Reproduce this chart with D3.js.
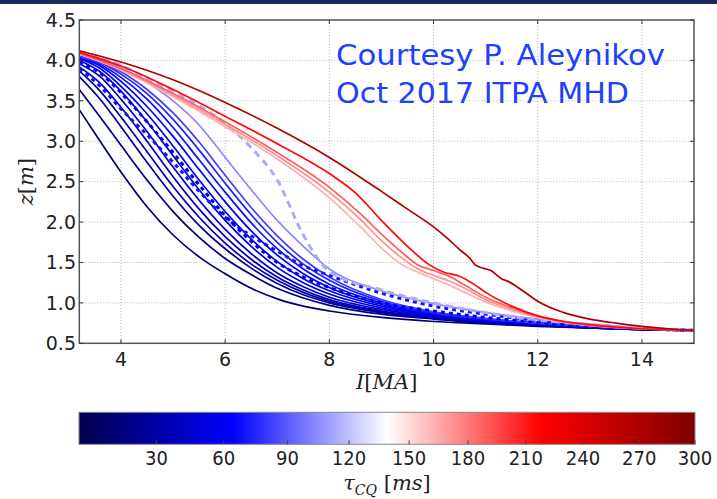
<!DOCTYPE html>
<html><head><meta charset="utf-8">
<script src="https://cdn.jsdelivr.net/npm/d3@7"></script>
<style>body{margin:0;background:#fff;} svg{display:block;}</style>
</head><body>
<svg id="c" width="717" height="499"></svg>
<script>
// ---------- data ----------
const xTicks = [4, 6, 8, 10, 12, 14];
const yTicks = [0.5, 1.0, 1.5, 2.0, 2.5, 3.0, 3.5, 4.0, 4.5];
const cbTicks = [30, 60, 90, 120, 150, 180, 210, 240, 270, 300];

// shared current grid [MA] for the blue family
const iGrid = [3.2, 3.6, 4, 4.5, 5, 5.5, 6, 6.5, 7, 7.5, 8, 9, 10, 11, 12, 13, 14, 15];

// z [m] for each blue-family curve on iGrid
const zN1  = [3.39, 3.00, 2.62, 2.19, 1.84, 1.57, 1.36, 1.18, 1.05, 0.96, 0.90, 0.82, 0.77, 0.74, 0.71, 0.69, 0.67, 0.66];
const zN2  = [3.64, 3.30, 2.95, 2.52, 2.13, 1.81, 1.55, 1.35, 1.18, 1.06, 0.97, 0.86, 0.80, 0.75, 0.72, 0.69, 0.67, 0.66];
const zN3  = [3.80, 3.52, 3.18, 2.74, 2.32, 1.96, 1.67, 1.43, 1.24, 1.10, 1.00, 0.88, 0.81, 0.76, 0.72, 0.69, 0.67, 0.66];
const zN4  = [3.87, 3.62, 3.30, 2.87, 2.44, 2.06, 1.74, 1.48, 1.28, 1.13, 1.02, 0.89, 0.82, 0.76, 0.72, 0.69, 0.67, 0.66];
const zN5  = [3.92, 3.72, 3.42, 3.00, 2.56, 2.16, 1.82, 1.54, 1.32, 1.16, 1.04, 0.90, 0.82, 0.77, 0.73, 0.70, 0.67, 0.66];
const zN6  = [3.96, 3.80, 3.52, 3.12, 2.68, 2.27, 1.91, 1.61, 1.37, 1.20, 1.07, 0.92, 0.83, 0.77, 0.73, 0.70, 0.68, 0.66];
const zB7  = [4.00, 3.86, 3.62, 3.24, 2.82, 2.40, 2.02, 1.70, 1.44, 1.25, 1.11, 0.94, 0.84, 0.78, 0.74, 0.70, 0.68, 0.66];
const zB8  = [4.02, 3.90, 3.68, 3.34, 2.94, 2.52, 2.13, 1.79, 1.51, 1.30, 1.15, 0.96, 0.85, 0.78, 0.74, 0.70, 0.68, 0.66];
const zB9  = [4.03, 3.93, 3.74, 3.43, 3.06, 2.65, 2.25, 1.89, 1.59, 1.36, 1.19, 0.98, 0.86, 0.79, 0.74, 0.71, 0.68, 0.66];
const zB10 = [4.04, 3.95, 3.79, 3.52, 3.17, 2.77, 2.37, 1.99, 1.67, 1.42, 1.23, 1.00, 0.87, 0.80, 0.75, 0.71, 0.68, 0.66];
const zB11 = [4.05, 3.97, 3.83, 3.59, 3.27, 2.89, 2.48, 2.09, 1.75, 1.48, 1.28, 1.02, 0.88, 0.80, 0.75, 0.71, 0.68, 0.66];
const zB12 = [4.05, 3.98, 3.86, 3.64, 3.35, 2.99, 2.58, 2.18, 1.83, 1.54, 1.32, 1.04, 0.89, 0.81, 0.75, 0.71, 0.68, 0.66];
const zD1  = [3.90, 3.68, 3.40, 3.08, 2.74, 2.38, 2.06, 1.83, 1.64, 1.46, 1.34, 1.12, 0.96, 0.86, 0.78, 0.72, 0.68, 0.66];
const zD2  = [3.98, 3.84, 3.60, 3.24, 2.86, 2.46, 2.08, 1.76, 1.50, 1.32, 1.19, 1.00, 0.90, 0.82, 0.76, 0.71, 0.68, 0.66];
const zLB  = [4.08, 4.02, 3.91, 3.73, 3.50, 3.20, 2.80, 2.40, 2.02, 1.70, 1.42, 1.15, 0.99, 0.88, 0.80, 0.74, 0.69, 0.66];
const zLBd = [4.10, 4.04, 3.94, 3.78, 3.62, 3.44, 3.22, 2.92, 2.52, 1.84, 1.39, 1.16, 1.00, 0.88, 0.79, 0.73, 0.69, 0.66];

// red curves have their own current samples
const iDarkRed = [3.2, 4, 5, 6, 7, 8, 9, 9.5, 10, 10.3, 10.5, 10.7, 10.8, 10.95, 11.1, 11.3, 11.45, 11.6, 11.8, 12, 12.5, 13, 13.5, 14, 14.5, 15];
const zDarkRed = [4.12, 3.98, 3.76, 3.48, 3.16, 2.80, 2.38, 2.16, 1.94, 1.78, 1.66, 1.55, 1.47, 1.43, 1.40, 1.30, 1.26, 1.20, 1.11, 1.02, 0.88, 0.80, 0.75, 0.71, 0.68, 0.66];
const iRed = [3.2, 4, 5, 6, 7, 8, 8.5, 9, 9.5, 9.9, 10.2, 10.5, 10.8, 11, 11.5, 12, 12.5, 13, 14, 15];
const zRed = [4.10, 3.93, 3.64, 3.31, 2.97, 2.60, 2.36, 2.02, 1.70, 1.48, 1.38, 1.33, 1.22, 1.13, 0.96, 0.84, 0.77, 0.73, 0.68, 0.66];
const iPink = [3.2, 4, 5, 6, 7, 8, 8.6, 9, 9.4, 9.7, 10, 10.3, 10.6, 11, 11.5, 12, 12.5, 13, 14, 15];
const zPink1 = [4.09, 3.90, 3.59, 3.24, 2.86, 2.43, 2.10, 1.85, 1.62, 1.47, 1.40, 1.33, 1.22, 1.07, 0.94, 0.84, 0.77, 0.72, 0.68, 0.66];
const zPink2 = [4.08, 3.89, 3.57, 3.21, 2.82, 2.37, 2.03, 1.77, 1.55, 1.42, 1.34, 1.27, 1.18, 1.04, 0.92, 0.83, 0.76, 0.72, 0.68, 0.66];
const zPink3 = [4.08, 3.88, 3.55, 3.18, 2.78, 2.30, 1.94, 1.68, 1.47, 1.38, 1.30, 1.22, 1.13, 1.01, 0.90, 0.82, 0.76, 0.72, 0.68, 0.66];

// quench times [ms] per curve
const tauList = [10, 18, 25, 32, 38, 44, 50, 56, 62, 68, 74, 82, 70, 62, 104, 114, 163, 173, 188, 215, 268];

const series = [
  {i: iGrid, z: zN1}, {i: iGrid, z: zN2}, {i: iGrid, z: zN3}, {i: iGrid, z: zN4},
  {i: iGrid, z: zN5}, {i: iGrid, z: zN6}, {i: iGrid, z: zB7}, {i: iGrid, z: zB8},
  {i: iGrid, z: zB9}, {i: iGrid, z: zB10}, {i: iGrid, z: zB11}, {i: iGrid, z: zB12},
  {i: iGrid, z: zD1, dash: "4,4"}, {i: iGrid, z: zD2, dash: "4,4"},
  {i: iGrid, z: zLB}, {i: iGrid, z: zLBd, dash: "7,5"},
  {i: iPink, z: zPink3}, {i: iPink, z: zPink2}, {i: iPink, z: zPink1},
  {i: iRed, z: zRed}, {i: iDarkRed, z: zDarkRed}
].map((s, k) => Object.assign(s, {tau: tauList[k]}));

// ---------- drawing ----------
const svg = d3.select("#c");
const W = 717, H = 499;
svg.append("rect").attr("width", W).attr("height", H).attr("fill", "#fff");
svg.append("rect").attr("x", 0).attr("y", 0).attr("width", W).attr("height", 4).attr("fill", "#1c2a5c");

const L = 79.3, R = 694, T = 20, B = 343.3;
const x = d3.scaleLinear().domain([3.2, 15]).range([L, R]);
const y = d3.scaleLinear().domain([0.5, 4.5]).range([B, T]);

// seismic colormap
const seismic = d3.scaleLinear()
  .domain([0, 0.25, 0.5, 0.75, 1])
  .range(["#00004c", "#0000ff", "#ffffff", "#ff0000", "#800000"])
  .interpolate(d3.interpolateRgb);
const cbPos = d3.scalePow().exponent(0.9).domain([0, 300]).range([79, 695]);
const norm = v => (cbPos(v) - 79) / (695 - 79);
const colorOf = v => seismic(norm(v));

// grid
const grid = svg.append("g").attr("stroke", "#b5b5b5").attr("stroke-width", 1).attr("stroke-dasharray", "1,2");
grid.selectAll("line.v").data(xTicks).join("line")
  .attr("x1", d => x(d)).attr("x2", d => x(d)).attr("y1", T).attr("y2", B);
grid.selectAll("line.h").data(yTicks.slice(1, -1)).join("line")
  .attr("y1", d => y(d)).attr("y2", d => y(d)).attr("x1", L).attr("x2", R);

// curves
svg.append("clipPath").attr("id", "pc").append("rect")
  .attr("x", L).attr("y", T).attr("width", R - L).attr("height", B - T);
const line = d3.line().curve(d3.curveMonotoneX).x(d => x(d[0])).y(d => y(d[1]));
svg.append("g").attr("clip-path", "url(#pc)")
  .selectAll("path").data(series).join("path")
  .attr("d", s => line(s.i.map((v, k) => [v, s.z[k]])))
  .attr("fill", "none")
  .attr("stroke", s => colorOf(s.tau))
  .attr("stroke-width", s => s.dash ? 3 : 1.7)
  .attr("stroke-dasharray", s => s.dash || null)
  .attr("stroke-linejoin", "round");

// frame
svg.append("rect").attr("x", L).attr("y", T).attr("width", R - L).attr("height", B - T)
  .attr("fill", "none").attr("stroke", "#555").attr("stroke-width", 1.5);

// inward ticks
const tk = svg.append("g").attr("stroke", "#333").attr("stroke-width", 1);
xTicks.forEach(d => {
  tk.append("line").attr("x1", x(d)).attr("x2", x(d)).attr("y1", B).attr("y2", B - 4);
  tk.append("line").attr("x1", x(d)).attr("x2", x(d)).attr("y1", T).attr("y2", T + 4);
});
yTicks.forEach(d => {
  tk.append("line").attr("x1", L).attr("x2", L + 4).attr("y1", y(d)).attr("y2", y(d));
  tk.append("line").attr("x1", R).attr("x2", R - 4).attr("y1", y(d)).attr("y2", y(d));
});

// tick labels
const tf = "'DejaVu Sans', sans-serif";
svg.append("g").selectAll("text").data(yTicks).join("text")
  .attr("x", 76).attr("y", d => y(d)).attr("dy", "0.36em")
  .attr("text-anchor", "end").attr("font-family", tf).attr("font-size", 19).attr("fill", "#222")
  .text(d => d.toFixed(1));
svg.append("g").selectAll("text").data(xTicks).join("text")
  .attr("x", d => x(d)).attr("y", 366)
  .attr("text-anchor", "middle").attr("font-family", tf).attr("font-size", 19).attr("fill", "#222")
  .text(d => d);

// axis labels
const mf = "'DejaVu Serif', 'Liberation Serif', serif";
const xl = svg.append("text").attr("x", (L + R) / 2).attr("y", 389).attr("text-anchor", "middle")
  .attr("font-family", mf).attr("font-size", 21).attr("fill", "#222");
xl.append("tspan").attr("font-style", "italic").text("I");
xl.append("tspan").text("[");
xl.append("tspan").attr("font-style", "italic").text("MA");
xl.append("tspan").text("]");

const yl = svg.append("text").attr("transform", `translate(33,${(T + B) / 2}) rotate(-90)`)
  .attr("text-anchor", "middle").attr("font-family", mf).attr("font-size", 21).attr("fill", "#222");
yl.append("tspan").attr("font-style", "italic").text("z");
yl.append("tspan").text("[");
yl.append("tspan").attr("font-style", "italic").text("m");
yl.append("tspan").text("]");

// annotation
const af = "'DejaVu Sans', sans-serif";
svg.append("text").attr("x", 336).attr("y", 65).attr("font-family", af).attr("font-size", 28)
  .attr("fill", "#2040ff").attr("textLength", 329).attr("lengthAdjust", "spacingAndGlyphs")
  .text("Courtesy P. Aleynikov");
svg.append("text").attr("x", 336).attr("y", 103).attr("font-family", af).attr("font-size", 28)
  .attr("fill", "#2040ff").attr("textLength", 293).attr("lengthAdjust", "spacingAndGlyphs")
  .text("Oct 2017 ITPA MHD");

// colorbar
const CT = 412.3, CB = 444.3;
const defs = svg.append("defs");
const grad = defs.append("linearGradient").attr("id", "cbg").attr("x1", "0%").attr("x2", "100%");
d3.range(0, 1.0001, 0.05).forEach(t => {
  grad.append("stop").attr("offset", (t * 100) + "%").attr("stop-color", seismic(t));
});
svg.append("rect").attr("x", cbPos(0)).attr("y", CT).attr("width", cbPos(300) - cbPos(0)).attr("height", CB - CT)
  .attr("fill", "url(#cbg)").attr("stroke", "#888").attr("stroke-width", 1);
svg.append("g").selectAll("line").data(cbTicks).join("line")
  .attr("x1", d => cbPos(d)).attr("x2", d => cbPos(d)).attr("y1", CB).attr("y2", CB - 4)
  .attr("stroke", "#444").attr("stroke-width", 1);
svg.append("g").selectAll("text").data(cbTicks).join("text")
  .attr("x", d => cbPos(d)).attr("y", 465).attr("text-anchor", "middle")
  .attr("font-family", "'DejaVu Sans Condensed', 'DejaVu Sans', sans-serif").attr("font-size", 20).attr("fill", "#222")
  .text(d => d);
const cl = svg.append("text").attr("x", 387).attr("y", 490).attr("text-anchor", "middle")
  .attr("font-family", mf).attr("font-size", 21).attr("fill", "#222");
cl.append("tspan").attr("font-style", "italic").text("τ");
cl.append("tspan").attr("font-style", "italic").attr("font-size", 14).attr("dy", 5).text("CQ");
cl.append("tspan").attr("dy", -5).text(" [");
cl.append("tspan").attr("font-style", "italic").text("ms");
cl.append("tspan").text("]");
</script>
</body></html>
